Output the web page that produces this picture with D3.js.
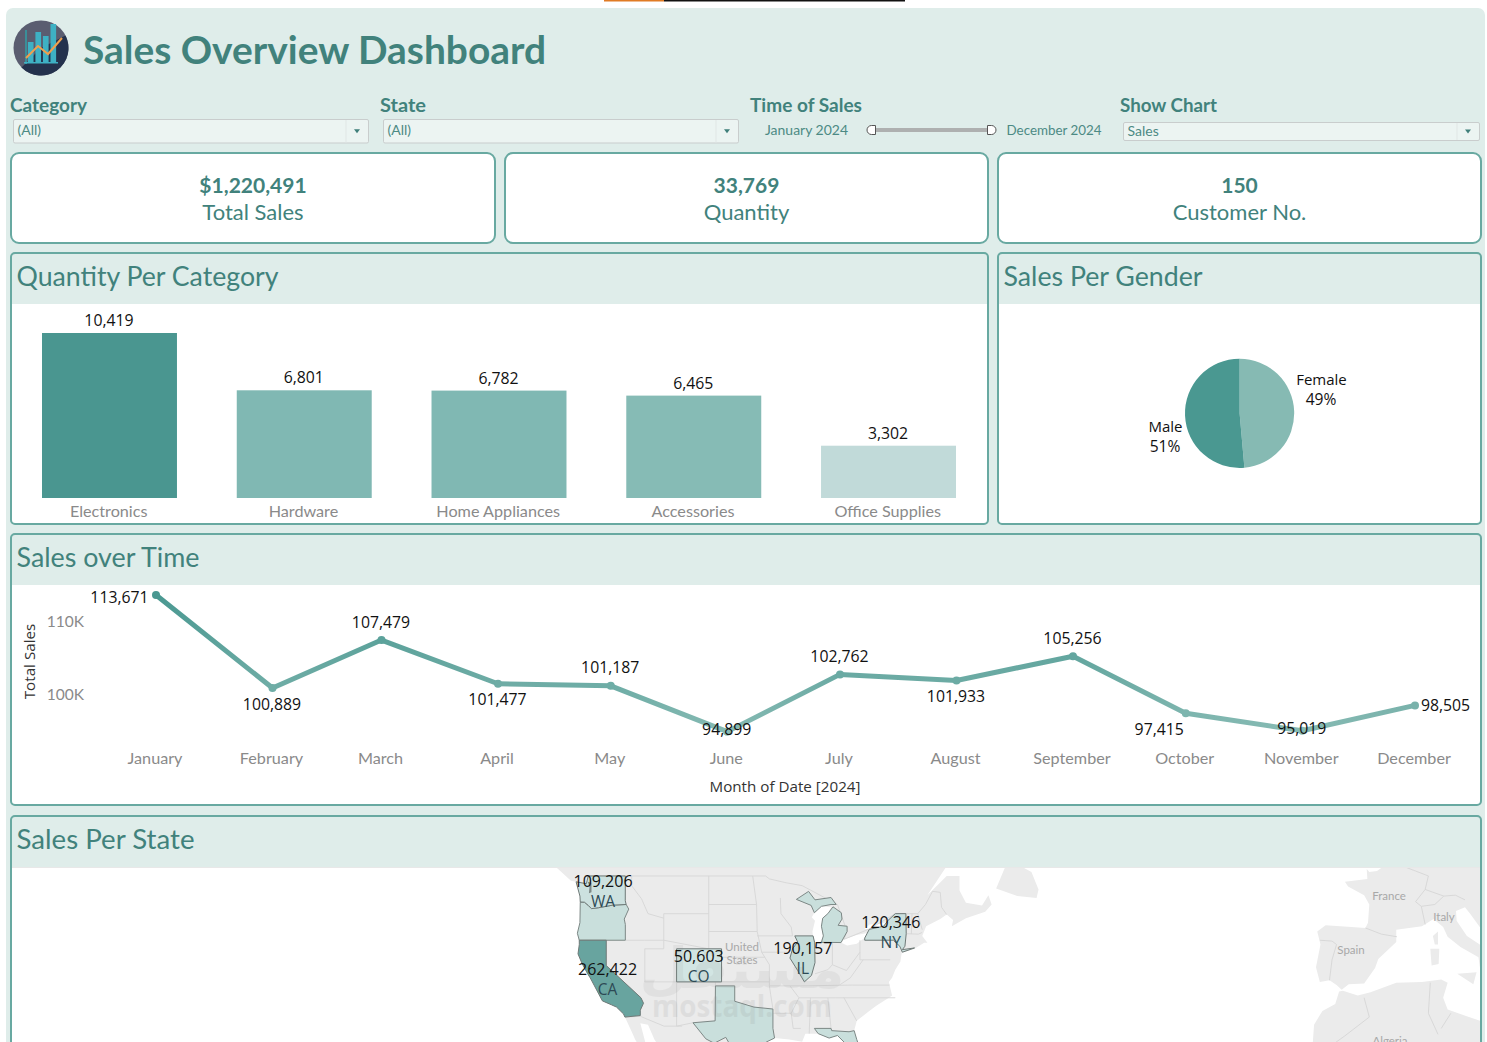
<!DOCTYPE html>
<html><head><meta charset="utf-8">
<style>html,body{margin:0;padding:0;background:#fff;overflow:hidden}svg{display:block}</style>
<script src="https://cdn.jsdelivr.net/npm/d3@7/dist/d3.min.js"></script>
</head><body><div id="c"></div>
<script>
const kpiValues=["$1,220,491","33,769","150"];
const kpiLabels=["Total Sales","Quantity","Customer No."];
const categories=["Electronics","Hardware","Home Appliances","Accessories","Office Supplies"];
const quantities=[10419,6801,6782,6465,3302];
const genders=["Female","Male"];
const genderShares=[48.6,51.4];
const months=["January","February","March","April","May","June","July","August","September","October","November","December"];
const monthlySales=[113671,100889,107479,101477,101187,94899,102762,101933,105256,97415,95019,98505];
const salesLabelPlacement=["left","below","above","below","above","on","above","below","above","belowLeft","on","right"];
const salesTicks=[100000,110000];
const stateCodes=["WA","CA","CO","IL","NY"];
const stateSales=[109206,262422,50603,190157,120346];
const stateLabelLon=[-120.5,-119.8,-105.6,-89.4,-75.7];
const stateLabelLat=[47.4,37.3,38.9,39.9,42.9];
const stateShapes={
WA:[[-124.7,48.4],[-123.1,48.2],[-122.8,49],[-117.03,49],[-117.04,46.4],[-116.9,46],[-119,45.93],[-121.2,45.65],[-122.3,45.55],[-122.8,45.9],[-123.4,46.25],[-124.05,46.27],[-124.1,46.9]],
CA:[[-124.2,42],[-120,42],[-120,39],[-114.6,35],[-114.2,34.3],[-114.7,33.4],[-114.7,32.7],[-117.1,32.5],[-117.3,32.9],[-118.4,33.8],[-119.2,34.1],[-120.6,34.6],[-121.9,36.6],[-122.5,37.5],[-122.9,38],[-123.8,39.3],[-124.4,40.4],[-124.2,41.5]],
CO:[[-109.05,41],[-102.05,41],[-102.05,37],[-109.05,37]],
IL:[[-90.65,42.5],[-87.8,42.5],[-87.55,41.7],[-87.5,39.35],[-88.05,37.8],[-89.15,37],[-90.2,38.4],[-91.4,39.9],[-91,41],[-90.2,41.8]],
NY:[[-79.76,42.25],[-79.05,43.25],[-76.8,43.6],[-76.2,44.2],[-75,45],[-73.35,45],[-73.3,42.75],[-73.5,41.3],[-73.9,40.9],[-72,41.1],[-73.9,40.6],[-74.3,41.3],[-75.3,42],[-79.76,42]]
};
const otherStateShapes=[
[[-124.05,46.25],[-123.4,46.25],[-122.8,45.9],[-122.3,45.55],[-121.2,45.65],[-119,45.93],[-116.9,46],[-116.5,45.5],[-117.2,44.4],[-117.03,43.8],[-117.03,42],[-124.2,42],[-124.5,42.8],[-124.1,44]],
[[-103,36.5],[-100,36.5],[-100,34.55],[-97,33.8],[-94.05,33.55],[-94.05,31],[-93.8,29.7],[-95,29.2],[-97.2,28],[-97.4,26],[-99.2,26.5],[-101.4,29.8],[-103.2,29],[-104.5,29.6],[-106.5,31.75],[-103.05,32]],
[[-86.5,41.76],[-83.45,41.73],[-82.5,43],[-82.5,43.6],[-83.9,43.7],[-83.3,44.4],[-83.4,45.1],[-84.7,45.75],[-85.5,45],[-86.3,44.5],[-86.5,43.6],[-86.2,42.5]],
[[-90.4,46.55],[-88.5,47.4],[-87.5,46.5],[-85,46.75],[-84.2,46],[-85,46],[-86.5,45.8],[-87.6,45.1],[-88.1,45.9]],
[[-87.6,31],[-85,31],[-84.9,30.7],[-82.2,30.55],[-81.4,30.7],[-81,29.5],[-80,27],[-80.2,25.5],[-81,25.1],[-81.8,26],[-82.7,27.7],[-82.8,29],[-84,30.05],[-85.3,29.7],[-87,30.3]]
];
const landShapes=[
[[-132,54],[-128.5,51],[-128,50],[-125.5,48.5],[-124.7,48.4],[-124.1,46.9],[-124.05,46.2],[-124.1,44],[-124.5,42.8],[-124.2,41.5],[-124.4,40.4],[-123.8,39.3],[-122.9,38],[-122.5,37.5],[-121.9,36.6],[-120.6,34.6],[-119.2,34.1],[-118.4,33.8],[-117.3,32.9],[-117.1,32.5],[-116,30.5],[-115.5,29.5],[-114.5,28],[-113,26],[-114.7,31.7],[-113.5,31.5],[-112.5,29.5],[-111,27.5],[-109,25.5],[-108,24],[-97,24],[-97.5,27.5],[-97.2,28],[-95,29.2],[-93.8,29.7],[-91.5,29.5],[-89.5,29.2],[-89,30.3],[-87,30.3],[-85.3,29.7],[-84,30.05],[-82.8,29],[-82.7,27.7],[-81.8,26],[-81,25.1],[-80.2,25.5],[-80,27],[-81,29.5],[-81.4,30.7],[-81,32],[-79.2,33.2],[-77.9,34],[-76,35],[-75.5,35.3],[-76,37],[-75.5,37.5],[-75,38.5],[-74.2,39.5],[-74,40.5],[-72,41],[-70.5,41.7],[-70,41.7],[-70.8,42.5],[-70.2,43.6],[-68,44.4],[-67,44.9],[-66,44.3],[-66.2,43.6],[-64,44.5],[-61,45.2],[-60,46],[-60.5,47],[-61.5,45.9],[-64,46.2],[-65,47.5],[-65,49],[-67,49],[-70,47],[-67,50],[-60,50.2],[-57,51.5],[-55,53],[-60,57],[-132,57]],
[[-59.3,47.7],[-56,46.9],[-53,46.7],[-52.7,47.6],[-53.8,49.4],[-55.5,50],[-55.5,51.6],[-57.5,50.5]],
[[-5,48.4],[-4.5,47.9],[-2,47],[-1.2,46],[-1.4,44],[-1.8,43.4],[-4,43.5],[-8,43.7],[-9.3,43],[-8.8,41.5],[-9.5,38.8],[-8.9,37],[-7.4,37.2],[-6.3,36.6],[-5.5,36],[-4.4,36.7],[-2,36.8],[-0.3,38.7],[0.2,39.8],[3,41.8],[3,43.2],[5,43.4],[7,43.6],[8.8,44.4],[10.3,43.5],[11,42.4],[13,41.2],[15.8,40],[16,38.9],[16.2,38],[17,39],[16.5,40],[18.5,40],[16,41.5],[14,42.5],[12.4,44.2],[12.3,45.3],[13.7,45.7],[14.5,45],[16,43.5],[18,42.5],[20,52],[2,51],[1.5,50.2],[0,49.5],[-1.2,49.4],[-1.6,49.7],[-1.5,48.7]],
[[-10,29],[-9.8,31.5],[-8.5,33.3],[-6.5,34.2],[-5.9,35.8],[-5.3,35.9],[-3,35.3],[-1,35.7],[3,36.9],[7,37],[10,37.3],[11,36.9],[10.3,35],[11,33.5],[15,32.3],[20,31],[20,25],[-12,25]],
[[8.3,41],[9.7,41],[9.6,39.2],[8.5,39]],[[8.7,42.5],[9.5,43],[9.5,41.5],[9,41.5]],[[12.5,38],[15.5,38.2],[15,36.7]]
];
const lakeShapes=[
[[-87.5,41.65],[-86.8,41.75],[-86.2,42.5],[-86.5,43.6],[-86.3,44.5],[-85.5,45],[-85,45.7],[-86.5,45.8],[-87.6,45.1],[-88,44.6],[-87.5,44.2],[-87.9,43],[-87.8,42.3]],
[[-83.4,41.7],[-82.5,41.4],[-81,41.6],[-79,42.7],[-79,42.9],[-81,42.6],[-83,42.1]],
[[-79.8,43.3],[-79,43.25],[-76.5,43.5],[-76.3,44.1],[-77,43.9],[-79,43.8]]
];
const soundShapes=[[[-122.9,48.4],[-122.3,48.3],[-122.3,47.3],[-122.7,47.2],[-122.6,47.9]]];
const borderLines=[
[[-122.8,49],[-95.2,49],[-94.6,48.7],[-92,48.3],[-89.5,48]],[[-117,42],[-114,42],[-111.05,42],[-104.05,41]],[[-116.05,49],[-116.05,48],[-114.5,46.6],[-113.5,45],[-111.05,44.5]],
[[-111.05,45],[-111.05,41],[-114,41],[-114,37]],[[-111.05,45],[-104.05,45]],[[-104.05,49],[-104.05,41]],[[-114,37],[-102,37],[-94.6,37]],[[-109.05,37],[-109.05,31.3],[-106.5,31.75]],
[[-117,32.5],[-114.7,32.6],[-111,31.3],[-108.2,31.3]],[[-103,37],[-103,32]],[[-104.05,43],[-96.5,43]],[[-104.05,46],[-96.6,46]],[[-97.2,49],[-96.6,46],[-96.5,43],[-95.8,40.6],[-94.6,39.1],[-94.6,36.5],[-94.4,35.4],[-94.05,33.55]],
[[-102.05,40],[-95.3,40]],[[-96.5,42.5],[-91,42.5]],[[-95.8,40.6],[-91.7,40.6]],[[-92.9,46.7],[-92.8,45],[-91.2,43.5],[-91,42.5]],[[-94.6,36.5],[-89.7,36.5],[-81.7,36.6],[-75.9,36.6]],[[-94,33],[-91.2,33],[-90.9,31],[-89.7,31]],
[[-91.4,36.5],[-90,35],[-91.2,33]],[[-90,35],[-84.3,35],[-83,35],[-75,35]],[[-88.2,35],[-88.4,30.3]],[[-85.5,35],[-85,31]],[[-84.8,41.7],[-84.8,39.1]],[[-80.5,42],[-80.5,39.7],[-75.8,39.7]],
[[-87.5,38],[-85.5,38.5],[-84.8,39.1],[-82.6,38.4],[-80.5,40.6]],[[-82,37.5],[-80,39.7]],[[-83.7,36.6],[-82,37.5]],[[-83,35],[-81,32]],[[-73.3,42.75],[-71.4,42.7],[-70.8,42.9]],[[-73.3,45],[-71.5,45],[-70.8,43.2]],[[-72.4,45],[-72.5,42.7]],[[-71.5,45],[-70.3,46],[-69.2,47.4],[-68,47.3],[-67.8,45.7],[-67,44.9]],[[-73.35,45],[-75,45],[-79,43.3],[-83,42.1],[-82.5,43],[-84,46],[-89.5,48]],
[[-8.9,42],[-7,41.9],[-6.3,41.5],[-7,39.7],[-7.4,37.2]],[[-1.8,43.4],[0.7,42.7],[3.1,42.4]],[[7.5,43.8],[6.9,45.8],[6,46.3],[7.5,47.6]],[[7.5,47.6],[10.4,46.9],[12.2,47],[13.7,46.5]],[[6.9,45.8],[9,46],[10.4,46.9]],[[7.5,47.6],[8,49],[6,49.5],[4,50]],[[-2,35],[-1.2,32.5],[-5,30],[-8.7,27.7]],[[8.3,36.9],[8,33],[9.5,30.2]],[[11.5,33],[10,31]]
];
const logoBarHeights=[20,30,26,38];
const logoTrend=[[0,18],[12,6],[22,14],[36,-2]];

const W=1487,H=1042;
const tealText="#41827c",frame="#68a9a1",panelBg="#dfedea";
const bookFont="Lato, 'Open Sans', sans-serif";
const dataFont="'Open Sans', 'Noto Sans', sans-serif";
const svg=d3.select("#c").append("svg").attr("width",W).attr("height",H).attr("viewBox",`0 0 ${W} ${H}`);
function txt(p,x,y,s,o={}){
  const t=p.append("text").attr("x",x).attr("y",y).text(s)
    .attr("font-family",o.font||bookFont).attr("font-size",o.size||14)
    .attr("font-weight",o.weight||400).attr("fill",o.fill||tealText)
    .attr("text-anchor",o.anchor||"start");
  if(o.len){t.attr("textLength",o.len).attr("lengthAdjust","spacingAndGlyphs");}
  if(o.op)t.attr("opacity",o.op);
  return t;
}
// top strip
svg.append("rect").attr("x",604).attr("y",0).attr("width",60).attr("height",1.5).attr("fill","#e07b24");
svg.append("rect").attr("x",664).attr("y",0).attr("width",241).attr("height",1.5).attr("fill","#111");
svg.append("rect").attr("x",6).attr("y",8).attr("width",1479).attr("height",1100).attr("rx",7).attr("fill",panelBg);

// logo
const logo=svg.append("g").attr("transform","translate(41,48)");
logo.append("ellipse").attr("rx",27.5).attr("ry",27.5).attr("fill","#5a5d70");
logo.append("path").attr("d",d3.arc()({innerRadius:0,outerRadius:27.5,startAngle:Math.PI*0.35,endAngle:Math.PI*1.25})).attr("fill","#24324d");
logo.append("rect").attr("x",-16).attr("y",-18).attr("width",2).attr("height",34).attr("fill","#3a8f99");
const lbx=d3.scaleBand().domain(d3.range(logoBarHeights.length)).range([-15,17]).padding(0.25);
logo.selectAll("rect.b").data(logoBarHeights).join("rect").attr("class","b").attr("x",(d,i)=>lbx(i)).attr("width",lbx.bandwidth()).attr("y",d=>14-d).attr("height",d=>d).attr("fill","#3eb1c4");
logo.append("path").attr("d",d3.line()(logoTrend.map(d=>[d[0]-15,d[1]-8]))).attr("fill","none").attr("stroke","#f0a04d").attr("stroke-width",2);
logo.append("rect").attr("x",-17).attr("y",14).attr("width",34).attr("height",1.5).attr("fill","#3eb1c4");

txt(svg,83,64,"Sales Overview Dashboard",{size:39,weight:700,len:463});

// filters
const ff=[["Category",10,77],["State",380,46],["Time of Sales",750,112],["Show Chart",1120,97]];
ff.forEach(f=>txt(svg,f[1],112,f[0],{size:19,weight:700,len:f[2]}));
function dropdown(x,y,w,h,s){
  svg.append("rect").attr("x",x+.5).attr("y",y+.5).attr("width",w).attr("height",h).attr("rx",1.5).attr("fill","#ecf4f2").attr("stroke","#c9cdcd");
  svg.append("line").attr("x1",x+w-22).attr("x2",x+w-22).attr("y1",y+1).attr("y2",y+h).attr("stroke","#e0e6e5");
  svg.append("path").attr("d",`M${x+w-14},${y+h/2-1.5}h6l-3,4z`).attr("fill","#3f7f7a");
  txt(svg,x+4.5,y+h/2+4.5,s,{size:14,fill:"#4c8a84"});
}
dropdown(13,119,355,23.5,"(All)");
dropdown(383,119,355,23.5,"(All)");
dropdown(1123,122,356,18,"Sales");
txt(svg,806.5,135,"January 2024",{size:13,anchor:"middle",fill:"#4c8a84",len:83});
txt(svg,1054,135,"December 2024",{size:13,anchor:"middle",fill:"#4c8a84",len:95});
svg.append("rect").attr("x",872).attr("y",128).attr("width",116).attr("height",4).attr("fill","#aeb0b0");
svg.append("path").attr("d","M875.5,125.5h-4a4.5,4.5 0 0 0 0,9h4z").attr("fill","#fff").attr("stroke","#555");
svg.append("path").attr("d","M987.5,125.5h4a4.5,4.5 0 0 1 0,9h-4z").attr("fill","#fff").attr("stroke","#555");

// KPI cards
const kpiX=d3.scaleOrdinal().domain([0,1,2]).range([[11,484],[505,483],[998,483]]);
kpiValues.forEach((v,i)=>{
  const [x,w]=kpiX(i);
  svg.append("rect").attr("x",x).attr("y",153).attr("width",w).attr("height",90).attr("rx",8).attr("fill","#fff").attr("stroke",frame).attr("stroke-width",2);
  txt(svg,x+w/2,192.5,v,{size:21,weight:700,anchor:"middle"});
  txt(svg,x+w/2,219.5,kpiLabels[i],{size:22,anchor:"middle"});
});

function panel(x,y,w,h,title,headH,len){
  svg.append("rect").attr("x",x).attr("y",y).attr("width",w).attr("height",h).attr("rx",4).attr("fill","#fff");
  svg.append("path").attr("d",`M${x},${y+headH}V${y+4}q0,-4 4,-4H${x+w-4}q4,0 4,4V${y+headH}z`).attr("fill",panelBg);
  svg.append("rect").attr("x",x).attr("y",y).attr("width",w).attr("height",h).attr("rx",4).attr("fill","none").attr("stroke",frame).attr("stroke-width",2);
  txt(svg,x+5.5,y+33,title,{size:27,len});
}
panel(11,253,977,271,"Quantity Per Category",51,262);
panel(998,253,483,271,"Sales Per Gender",51,199);
panel(11,534,1470,271,"Sales over Time",51,183);
panel(11,816,1470,300,"Sales Per State",51,178);

// bars
const bx=d3.scaleBand().domain(categories).range([12.1,985.9]).paddingInner(0.307).paddingOuter(0.1535);
const by=d3.scaleLinear().domain([0,10419]).range([498,333]);
const barColor=d3.scaleLinear().domain([3302,6465,6801,10419]).range(["#c1dad9","#86bbb5","#80b8b3","#4a9690"]);
svg.append("g").selectAll("rect").data(categories).join("rect")
  .attr("x",d=>bx(d)).attr("width",bx.bandwidth())
  .attr("y",(d,i)=>by(quantities[i])).attr("height",(d,i)=>by(0)-by(quantities[i]))
  .attr("fill",(d,i)=>barColor(quantities[i]));
categories.forEach((c,i)=>{
  const cx=bx(c)+bx.bandwidth()/2;
  txt(svg,cx-0.5,by(quantities[i])-7,d3.format(",")(quantities[i]),{font:dataFont,size:15.8,fill:"#111",anchor:"middle"});
  txt(svg,cx-0.8,517,c,{size:16.2,fill:"#8a8a8a",anchor:"middle"});
});

// pie
const pie=d3.pie().sort(null).value(d=>d)(genderShares);
const pieColor=d3.scaleOrdinal().domain(genders).range(["#86bab3","#4a9891"]);
const arc=d3.arc().innerRadius(0).outerRadius(54.6);
const pg=svg.append("g").attr("transform","translate(1239.6,413.3)");
pg.selectAll("path").data(pie).join("path").attr("d",arc).attr("fill",(d,i)=>pieColor(genders[i]));
[[1321.5,385,1321,405],[1165.5,432,1165,452]].forEach((p,i)=>{
  txt(svg,p[0],p[1],genders[i],{font:dataFont,size:15,fill:"#111",anchor:"middle"});
  txt(svg,p[2],p[3],Math.round(genderShares[i])+"%",{font:dataFont,size:15.6,fill:"#111",anchor:"middle"});
});

// line chart
const dates=months.map((m,i)=>new Date(Date.UTC(2024,i,1)));
const lx=d3.scaleUtc().domain([dates[0],dates[11]]).range([156,1415]);
const ly=d3.scaleLinear().domain([100000,110000]).range([694.5,621.7]);
const lineColor=d3.scaleLinear().domain([95000,101000,113671]).range(["#86bab3","#6fada6","#4a9891"]);
const defs=svg.append("defs");
monthlySales.slice(0,-1).forEach((v,i)=>{
  const g=defs.append("linearGradient").attr("id","seg"+i).attr("gradientUnits","userSpaceOnUse")
   .attr("x1",lx(dates[i])).attr("x2",lx(dates[i+1])).attr("y1",ly(v)).attr("y2",ly(monthlySales[i+1]));
  g.append("stop").attr("offset",0).attr("stop-color",lineColor(v));
  g.append("stop").attr("offset",1).attr("stop-color",lineColor(monthlySales[i+1]));
  svg.append("line").attr("x1",lx(dates[i])).attr("x2",lx(dates[i+1])).attr("y1",ly(v)).attr("y2",ly(monthlySales[i+1]))
   .attr("stroke",`url(#seg${i})`).attr("stroke-width",5).attr("stroke-linecap","round");
});
svg.append("g").selectAll("circle").data(monthlySales).join("circle")
  .attr("cx",(d,i)=>lx(dates[i])).attr("cy",d=>ly(d)).attr("r",4).attr("fill",d=>lineColor(d));
const place={left:[-36,2.5,"middle"],below:[0,16,"middle"],above:[0,-18,"middle"],on:[0,-2,"middle"],belowLeft:[-26,16,"middle"],right:[31,0,"middle"]};
monthlySales.forEach((v,i)=>{
  const p=place[salesLabelPlacement[i]];
  txt(svg,lx(dates[i])+p[0]-0.5,ly(v)+p[1]+5.5,d3.format(",")(v),{font:dataFont,size:15.8,fill:"#111",anchor:p[2]});
  txt(svg,lx(dates[i])-1,764,months[i],{size:16.2,fill:"#8a8a8a",anchor:"middle"});
});
salesTicks.forEach(t=>txt(svg,84,ly(t)+5,d3.format(".3s")(t).replace("k","K"),{size:15.5,fill:"#8a8a8a",anchor:"end"}));
txt(svg,0,0,"Total Sales",{font:dataFont,size:15.2,fill:"#333",anchor:"middle"}).attr("transform","translate(35,661.5) rotate(-90)");
txt(svg,785,792,"Month of Date [2024]",{font:dataFont,size:15.2,fill:"#333",anchor:"middle"});

// map
const proj=d3.geoMercator().scale(368).translate([1377,1238]);
const mapLine=d3.line().x(d=>proj(d)[0]).y(d=>proj(d)[1]);
defs.append("clipPath").attr("id","mapclip").append("rect").attr("x",12).attr("y",868).attr("width",1468).attr("height",200);
svg.append("line").attr("x1",12).attr("x2",1480).attr("y1",867.5).attr("y2",867.5).attr("stroke","#e8e8e8");
const m=svg.append("g").attr("clip-path","url(#mapclip)");
m.selectAll("path.l").data(landShapes).join("path").attr("class","l").attr("d",d=>mapLine(d)+"Z").attr("fill","#ebebeb");
m.selectAll("path.k").data(lakeShapes).join("path").attr("class","k").attr("d",d=>mapLine(d)+"Z").attr("fill","#fff");
m.selectAll("path.b").data(borderLines).join("path").attr("class","b").attr("d",mapLine).attr("fill","none").attr("stroke","#d6d6d6").attr("stroke-width",.9);
const stateColor=d3.scaleLinear().domain([50000,200000,262422]).range(["#d2e5e3","#c4dbd8","#68a49f"]);
m.selectAll("path.o").data(otherStateShapes).join("path").attr("class","o").attr("d",d=>mapLine(d)+"Z").attr("fill","#c9dfdc").attr("stroke","#7d8886").attr("stroke-width",1);
m.selectAll("path.s").data(stateCodes).join("path").attr("class","s").attr("d",c=>mapLine(stateShapes[c])+"Z")
  .attr("fill",(c,i)=>stateColor(stateSales[i])).attr("stroke","#6f7a78").attr("stroke-width",1);
m.selectAll("path.p").data(soundShapes).join("path").attr("class","p").attr("d",d=>mapLine(d)+"Z").attr("fill","#7d8886");
[["United",742,951],["States",742,964],["France",1389,900],["Italy",1444,921],["Spain",1351,954],["Algeria",1390,1045]].forEach(d=>
  txt(m,d[1],d[2],d[0],{size:11.5,fill:"#a8a8a8",anchor:"middle"}));
txt(m,742,988,"مستقل",{font:"'DejaVu Sans',sans-serif",size:56,weight:700,fill:"#888",anchor:"middle",op:.1});
txt(m,742,1017,"mostaql.com",{font:"'Open Sans',sans-serif",size:31,weight:700,fill:"#888",anchor:"middle",op:.13,len:180});
stateCodes.forEach((c,i)=>{
  const [x,y]=proj([stateLabelLon[i],stateLabelLat[i]]);
  txt(m,x,y-4.5,d3.format(",")(stateSales[i]),{font:dataFont,size:16,fill:"#111",anchor:"middle"});
  txt(m,x,y+15.5,c,{font:dataFont,size:15.5,fill:"#2d4a55",anchor:"middle"});
});
</script></body></html>
